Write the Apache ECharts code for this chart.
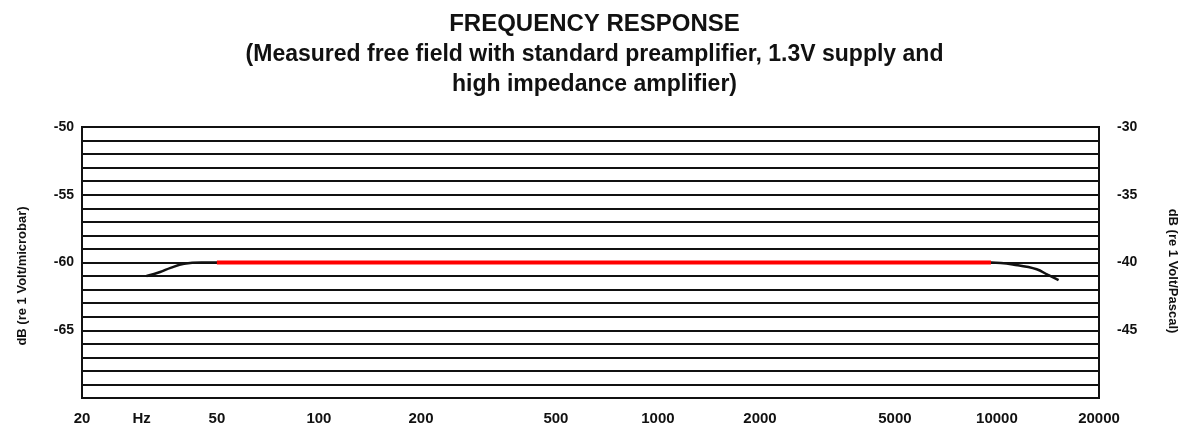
<!DOCTYPE html>
<html><head><meta charset="utf-8">
<script src="https://cdn.jsdelivr.net/npm/echarts@6/dist/echarts.min.js"></script>
<style>html,body{margin:0;padding:0;background:#fff}#c{width:1189px;height:428px}</style>
</head><body><div id="c"></div>
<script>
const tickFreqs = [20, 30, 50, 100, 200, 500, 1000, 2000, 5000, 10000, 20000];
const tickLabels = ['20', 'Hz', '50', '100', '200', '500', '1000', '2000', '5000', '10000', '20000'];
const leftTicks = [-50, -55, -60, -65];
const rightTicks = [-30, -35, -40, -45];
const blackFreq = [31, 34, 36.5, 40, 45, 50, 1000, 9600, 11500, 13100, 14100, 15200];
const blackDb = [-61, -60.7, -60.4, -60.1, -60, -60, -60, -60, -60.2, -60.5, -60.9, -61.3];
const redFreq = [50, 9600];
const redDb = [-60, -60];

const lg = Math.log10;
const FONT = 'Liberation Sans, Arial, sans-serif';
const chart = echarts.init(document.getElementById('c'), null, {renderer: 'canvas'});
chart.setOption({
  animation: false,
  backgroundColor: '#fff',
  title: {
    text: 'FREQUENCY RESPONSE',
    subtext: '(Measured free field with standard preamplifier, 1.3V supply and\nhigh impedance amplifier)',
    left: 'center', top: 7, itemGap: 4,
    textStyle: {fontFamily: FONT, fontWeight: 'bold', fontSize: 24, color: '#111'},
    subtextStyle: {fontFamily: FONT, fontWeight: 'bold', fontSize: 23, color: '#111', lineHeight: 30, align: 'center'}
  },
  grid: {left: 82, right: 90, top: 127, bottom: 30, show: true, borderColor: '#111', borderWidth: 2, backgroundColor: 'transparent'},
  xAxis: {
    type: 'value', min: lg(20), max: lg(20000),
    axisLine: {show: true, lineStyle: {color: '#111', width: 2}},
    axisTick: {show: false},
    splitLine: {show: false},
    axisLabel: {
      customValues: tickFreqs.map(lg),
      margin: 13,
      fontFamily: FONT, fontWeight: 'bold', fontSize: 15, color: '#111',
      formatter: function (v) {
        let best = 0, bd = Infinity;
        tickFreqs.forEach(function (f, i) { const d = Math.abs(lg(f) - v); if (d < bd) { bd = d; best = i; } });
        return tickLabels[best];
      }
    }
  },
  yAxis: [{
    type: 'value', min: -70, max: -50, interval: 1, position: 'left',
    axisLine: {show: true, lineStyle: {color: '#111', width: 2}},
    axisTick: {show: false},
    splitLine: {show: true, lineStyle: {color: '#111', width: 2}},
    axisLabel: {customValues: leftTicks, margin: 8, fontFamily: FONT, fontWeight: 'bold', fontSize: 14, color: '#111'}
  }, {
    type: 'value', min: -50, max: -30, interval: 1, position: 'right',
    axisLine: {show: true, lineStyle: {color: '#111', width: 2}},
    axisTick: {show: false},
    splitLine: {show: false},
    axisLabel: {customValues: rightTicks, margin: 18, fontFamily: FONT, fontWeight: 'bold', fontSize: 14, color: '#111'}
  }],
  graphic: [{
    type: 'text', x: 22, y: 276, rotation: Math.PI / 2,
    style: {text: 'dB (re 1 Volt/microbar)', font: 'bold 13px ' + FONT, fill: '#111', align: 'center', verticalAlign: 'middle'}
  }, {
    type: 'text', x: 1173, y: 271, rotation: -Math.PI / 2,
    style: {text: 'dB (re 1 Volt/Pascal)', font: 'bold 13px ' + FONT, fill: '#111', align: 'center', verticalAlign: 'middle'}
  }],
  series: [{
    type: 'line', yAxisIndex: 0, smooth: 0.4, symbol: 'none',
    data: blackFreq.map(function (f, i) { return [lg(f), blackDb[i]]; }),
    lineStyle: {color: '#111', width: 2.5}
  }, {
    type: 'line', yAxisIndex: 0, symbol: 'none',
    data: redFreq.map(function (f, i) { return [lg(f), redDb[i]]; }),
    lineStyle: {color: '#ff0000', width: 4}
  }]
});
</script></body></html>
